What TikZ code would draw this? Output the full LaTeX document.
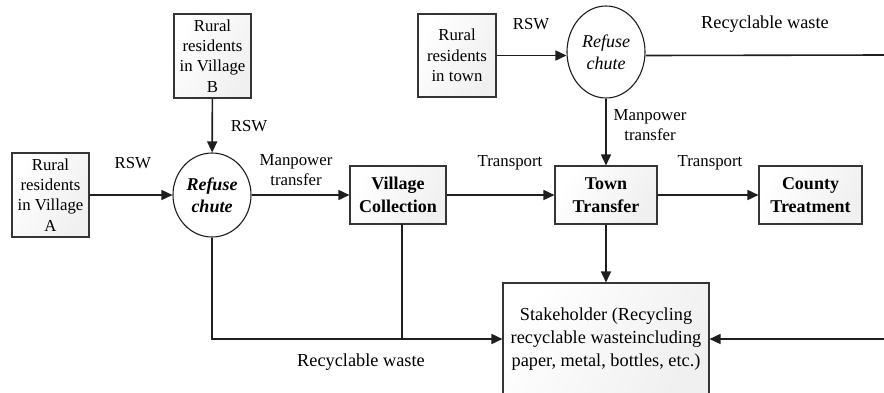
\documentclass[tikz,border=0pt]{standalone}
\usepackage{fontspec}
\setmainfont{Liberation Serif}
\usetikzlibrary{arrows.meta,shapes.geometric}
\definecolor{linec}{HTML}{1E1E1E}
\tikzset{
  boxshade/.style={draw=linec!90, line width=1.1pt, left color=white, right color=black!6, shading angle=60},
  resbox/.style={boxshade, rectangle, minimum width=77pt, minimum height=84pt, inner sep=0pt, align=center, font=\fontsize{16.8}{20.3}\selectfont},
  procbox/.style={boxshade, rectangle, minimum height=58pt, inner sep=0pt, align=center, font=\fontsize{18}{22.5}\selectfont\bfseries},
  chute/.style={draw=linec, line width=1.1pt, ellipse, fill=white, inner sep=0pt, align=center},
  lbl/.style={font=\fontsize{16.8}{20.3}\selectfont, align=center, inner sep=0pt},
  biglbl/.style={font=\fontsize{18.3}{22}\selectfont, align=center, inner sep=0pt},
  flow/.style={draw=linec, line width=1.6pt, -{Triangle[length=11pt,width=10pt]}},
  plain/.style={draw=linec, line width=1.6pt}
}
\begin{document}
\begin{tikzpicture}[x=1pt,y=-1pt]
\useasboundingbox (0,0) rectangle (884,392);
\clip (0,0) rectangle (884,392);
% nodes
\node[resbox] (vB) at (212.5,56) {Rural\\residents\\in Village\\B};
\node[resbox] (vA) at (50.5,195) {Rural\\residents\\in Village\\A};
\node[resbox, minimum width=78pt, minimum height=83pt] (tR) at (457,55.5) {Rural\\residents\\in town};
\node[chute, minimum width=78pt, minimum height=84pt, font=\fontsize{18}{22}\selectfont\bfseries\itshape] (cV) at (212,195) {Refuse\\chute};
\node[chute, minimum width=78pt, minimum height=92pt, font=\fontsize{18}{22}\selectfont\itshape] (cT) at (606,52) {Refuse\\chute};
\node[procbox, minimum width=96pt] (VC) at (398,195) {Village\\Collection};
\node[procbox, minimum width=102pt] (TT) at (606,195) {Town\\Transfer};
\node[procbox, minimum width=103pt] (CT) at (810.5,195) {County\\Treatment};
\node[boxshade, rectangle, minimum width=206pt, minimum height=112pt, inner sep=0pt, align=center, font=\fontsize{18.3}{23}\selectfont] (SH) at (606,339) {Stakeholder (Recycling\\recyclable wasteincluding\\paper, metal, bottles, etc.)};
% free ends and joints
\coordinate (edgeTop) at (884,55);
\coordinate (edgeBot) at (884,339);
\coordinate (cornerV) at (212,339);
\coordinate (dropVC) at (402,224);
\coordinate (joinVC) at (402,339);
% connectors
\draw[flow] (vB) -- (cV);
\draw[flow] (vA) -- (cV);
\draw[flow] (cV) -- (VC);
\draw[flow] (VC) -- (TT);
\draw[flow] (TT) -- (CT);
\draw[flow] (tR.east) -- (tR.east -| cT.west);
\draw[plain] (tR.east -| cT.east) -- (edgeTop);
\draw[flow] (cT) -- (TT);
\draw[flow] (TT) -- (SH);
\draw[flow] (cV.south) -- (cornerV) -- (SH.west);
\draw[plain] (dropVC) -- (joinVC);
\draw[flow] (edgeBot) -- (SH.east);
% labels
\node[lbl] (l1) at (132.8,163) {RSW};
\node[lbl] (l2) at (249,126) {RSW};
\node[lbl] (l3) at (296,170) {Manpower\\transfer};
\node[lbl] (l4) at (510,163) {Transport};
\node[lbl] (l5) at (710,163) {Transport};
\node[lbl] (l6) at (531,24) {RSW};
\node[lbl] (l7) at (650,125) {Manpower\\transfer};
\node[biglbl] (l8) at (765,24) {Recyclable waste};
\node[biglbl] (l9) at (361,362) {Recyclable waste};
\end{tikzpicture}
\end{document}
